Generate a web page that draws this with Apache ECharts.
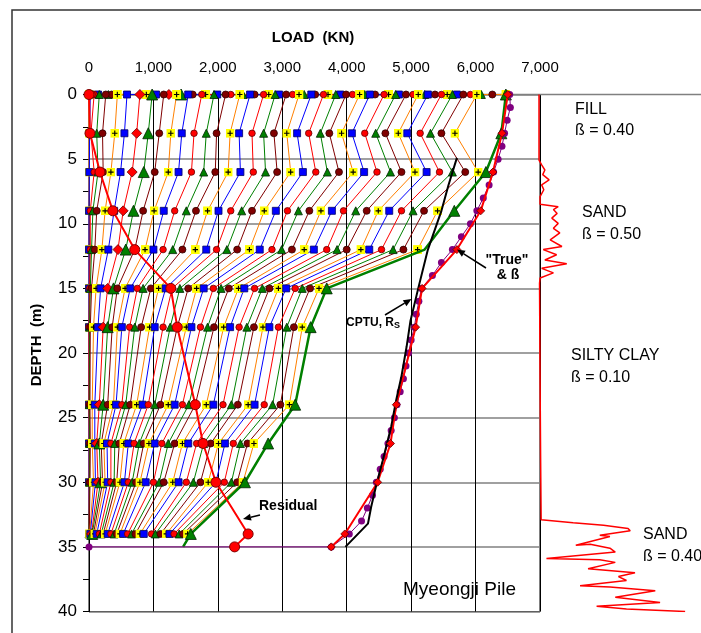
<!DOCTYPE html>
<html>
<head>
<meta charset="utf-8">
<script src="https://cdn.jsdelivr.net/npm/echarts/dist/echarts.min.js"></script>
<style>
  html, body { margin: 0; padding: 0; background: #fff; }
  #chart { width: 701px; height: 633px; }
</style>
</head>
<body>
<div id="chart"></div>
<script>
// gauge levels (m); the head has two points: applied load and top gauge
var gaugeDepths = [0, 0, 3, 6, 9, 12, 15, 18, 24, 27, 30, 34];

// load (kN) at each level for the 36 load steps
var loadHead = [0, 140, 80, 300, 350, 890, 1040, 1240, 1430, 1610, 1810, 1990, 2200, 2390, 2570, 2790, 2950, 3160, 3340, 3510, 3710, 3900, 4090, 4280, 4440, 4650, 4810, 5030, 5210, 5370, 5560, 5710, 5920, 6090, 6260, 6470];
var load0 = [0, 20, 50, 160, 260, 440, 590, 790, 980, 1160, 1360, 1540, 1750, 1940, 2120, 2340, 2500, 2710, 2890, 3060, 3260, 3450, 3640, 3830, 3990, 4200, 4360, 4580, 4760, 4920, 5110, 5260, 5470, 5640, 5810, 6020];
var load3 = [0, 10, 30, 120, 210, 400, 550, 740, 920, 1090, 1270, 1440, 1630, 1820, 1980, 2190, 2330, 2530, 2710, 2870, 3070, 3230, 3410, 3590, 3730, 3920, 4080, 4280, 4450, 4600, 4800, 4940, 5140, 5300, 5470, 5680];
var load6 = [0, 5, 80, 140, 220, 340, 490, 670, 850, 1020, 1230, 1390, 1590, 1780, 1960, 2160, 2350, 2550, 2740, 2920, 3130, 3320, 3520, 3700, 3880, 4100, 4270, 4470, 4680, 4850, 5060, 5240, 5440, 5640, 5840, 6040];
var load9 = [0, 0, 20, 60, 120, 250, 390, 530, 690, 840, 1010, 1160, 1330, 1510, 1660, 1840, 2010, 2200, 2370, 2530, 2720, 2900, 3080, 3250, 3420, 3600, 3770, 3950, 4140, 4310, 4490, 4660, 4850, 5030, 5200, 5410];
var load12 = [0, 0, 20, 40, 90, 200, 300, 450, 570, 710, 870, 1000, 1150, 1300, 1450, 1650, 1820, 1980, 2140, 2300, 2490, 2650, 2840, 2990, 3150, 3340, 3490, 3690, 3850, 4000, 4220, 4350, 4540, 4720, 4880, 5100];
var load15 = [0, 0, 10, 20, 40, 110, 180, 290, 380, 440, 560, 640, 750, 840, 960, 1080, 1190, 1290, 1410, 1540, 1670, 1780, 1930, 2050, 2170, 2320, 2410, 2570, 2690, 2800, 2940, 3060, 3200, 3310, 3430, 3570];
var load18 = [0, 0, 0, 10, 20, 70, 140, 220, 290, 360, 440, 510, 630, 710, 810, 940, 1020, 1150, 1260, 1370, 1510, 1590, 1730, 1840, 1940, 2090, 2190, 2330, 2450, 2560, 2700, 2800, 2940, 3070, 3180, 3310];
var load24 = [0, 0, 0, 5, 15, 50, 90, 160, 220, 290, 380, 420, 510, 570, 640, 740, 830, 920, 1020, 1110, 1230, 1330, 1450, 1550, 1650, 1820, 1930, 2080, 2210, 2310, 2470, 2570, 2720, 2850, 2970, 3110];
var load27 = [0, 0, 5, 10, 20, 50, 90, 120, 160, 190, 230, 280, 340, 400, 470, 540, 610, 700, 780, 850, 930, 1020, 1130, 1230, 1330, 1450, 1540, 1670, 1780, 1890, 2010, 2110, 2240, 2350, 2460, 2560];
var load30 = [0, 0, 5, 10, 15, 70, 100, 140, 180, 210, 250, 290, 340, 390, 430, 480, 550, 610, 670, 730, 790, 880, 1000, 1090, 1160, 1300, 1390, 1510, 1620, 1730, 1850, 1970, 2100, 2210, 2300, 2390];
var load34 = [0, 0, 0, 0, 5, 10, 20, 40, 50, 70, 90, 120, 160, 190, 220, 250, 290, 340, 390, 430, 480, 530, 600, 660, 720, 790, 850, 970, 1030, 1110, 1200, 1250, 1320, 1400, 1460, 1530];

// maximum load distribution
var maxDepths = [0, 3, 6, 9, 12, 15, 18, 24, 27, 30, 34, 35];
var maxLoad = [6470, 6400, 6160, 5670, 5210, 3690, 3440, 3200, 2780, 2420, 1580, 1460];

// residual load
var residDepths = [0, 3, 6, 9, 12, 15, 18, 24, 27, 30, 34, 35];
var residLoad = [0, 15, 170, 370, 710, 1270, 1370, 1650, 1770, 1970, 2470, 2260];

// "True" distribution
var trueDepths = [0, 3, 6, 9, 12, 15, 18, 24, 27, 30, 34, 35];
var trueLoad = [6500, 6410, 6270, 6080, 5710, 5170, 5070, 4770, 4680, 4480, 3970, 3760];

// effective stress (ß) calculation
var betaDepths = [0, 1, 2, 3, 4, 5, 6, 7, 8, 9, 10, 11, 12, 13, 14, 15, 16, 17, 18, 19, 20, 21, 22, 23, 24, 25, 26, 27, 28, 29, 30, 31, 32, 33, 34, 35, 35];
var betaLoad = [6530, 6540, 6490, 6450, 6410, 6350, 6280, 6210, 6120, 6020, 5920, 5780, 5640, 5470, 5330, 5160, 5120, 5080, 5050, 5000, 4960, 4920, 4880, 4830, 4780, 4740, 4690, 4640, 4580, 4520, 4460, 4400, 4320, 4230, 4040, 3760, 0];

// CPTU, Rs
var cptuDepths = [4.9, 7, 9, 12, 15, 17.5, 19.5, 21.8, 23.6, 25.7, 28.3, 30.4, 31.9, 33.2, 35];
var cptuLoad = [5710, 5580, 5470, 5260, 5110, 4990, 4930, 4850, 4770, 4690, 4560, 4450, 4380, 4330, 3980];

// cone resistance trace (right panel)
var coneDepths = [0, 5.07, 5.45, 5.84, 6.2, 6.6, 6.99, 7.37, 7.9, 8.5, 8.68, 8.9, 9.2, 9.56, 9.97, 10.35, 10.7, 11.25, 11.76, 12.0, 12.4, 12.8, 13.1, 13.45, 13.8, 14.2, 14.6, 22, 28, 32.9, 32.98, 33.14, 33.32, 33.58, 33.76, 34.1, 34.2, 34.87, 34.8, 35.1, 35.4, 35.9, 36.0, 36.2, 36.7, 37.0, 37.3, 37.6, 38.0, 38.1, 38.4, 38.9, 39.3, 39.6, 39.8, 40.0];
var coneQc = [0, 0, 0.5, 1.1, 0.7, 1.9, 0.5, 0.9, 0.2, 0.2, 3.6, 2.7, 3.4, 2.4, 3.6, 2.7, 3.9, 2.1, 4.3, 0.8, 3.3, 1.1, 5.2, 0.5, 2.7, 0.2, 0.1, 0.2, 0.3, 0.4, 0.5, 6.4, 12.1, 16.7, 17.1, 11.4, 13.3, 6.9, 9.6, 13.3, 14.3, 1.4, 11.4, 14.3, 9.2, 18.0, 14.9, 16.4, 7.7, 13.3, 21.8, 14.3, 22.7, 10.8, 16.4, 27.4];

var xTicks = [0, 1000, 2000, 3000, 4000, 5000, 6000, 7000];

var FONT = 'Liberation Sans, Arial, sans-serif';
var levelRows = [loadHead, load0, load3, load6, load9, load12, load15, load18, load24, load27, load30, load34];

var plusSvg = "<svg xmlns='http://www.w3.org/2000/svg' width='10' height='10'><rect width='10' height='10' fill='#FFFF00'/><path d='M5 2V8M2 5H8' stroke='#000' stroke-width='1.3'/></svg>";
var plusImg = 'image://data:image/svg+xml;charset=utf-8,' + encodeURIComponent(plusSvg);

var styles = [
  { line: '#FF8000', symbol: plusImg, size: 9 },
  { line: '#0000FF', symbol: 'rect', size: 7, fill: '#0000FF', border: '#000066' },
  { line: '#FF0000', symbol: 'circle', size: 6.5, fill: '#FF0000', border: '#660000' },
  { line: '#008000', symbol: 'triangle', size: 8, fill: '#008000', border: '#002200' },
  { line: '#800000', symbol: 'circle', size: 7, fill: '#800000', border: '#300000' }
];

var series = [];
for (var i = 0; i < load0.length; i++) {
  var st = styles[i % 5];
  var pts = [];
  for (var k = 0; k < gaugeDepths.length; k++) {
    pts.push([levelRows[k][i], gaugeDepths[k]]);
  }
  var sym = st.symbol, size = st.size;
  if (i === 7) { sym = 'diamond'; size = 10; }
  if (i === 8) { size = 11; }
  series.push({
    type: 'line', xAxisIndex: 0, yAxisIndex: 0,
    data: pts, symbol: sym, symbolSize: size, showSymbol: true,
    lineStyle: { color: st.line, width: 1 },
    itemStyle: { color: st.fill || st.line, borderColor: st.border || st.line, borderWidth: st.fill ? 0.8 : 0 },
    z: 2
  });
}

function pairs(xs, ys) {
  return xs.map(function (v, j) { return [v, ys[j]]; });
}

series.push({
  type: 'line', data: pairs(maxLoad, maxDepths).map(function (p) {
    return (p[1] === 12 || p[1] === 35) ? { value: p, symbol: 'none' } : p;
  }),
  symbol: 'triangle', symbolSize: 11,
  lineStyle: { color: '#008000', width: 2.5 },
  itemStyle: { color: '#008000', borderColor: '#002200', borderWidth: 0.8 }, z: 3
});
series.push({
  type: 'line', data: pairs(residLoad, residDepths),
  symbol: 'circle', symbolSize: 10,
  lineStyle: { color: '#FF0000', width: 2 },
  itemStyle: { color: '#FF0000', borderColor: '#800000', borderWidth: 1 }, z: 4
});
series.push({
  type: 'line', data: pairs(betaLoad, betaDepths),
  symbol: 'circle', symbolSize: 7,
  lineStyle: { color: '#800080', width: 1 },
  itemStyle: { color: '#800080' }, z: 4
});
series.push({
  type: 'line', data: pairs(trueLoad, trueDepths),
  symbol: 'diamond', symbolSize: 8,
  lineStyle: { color: '#FF0000', width: 2 },
  itemStyle: { color: '#FF0000', borderColor: '#660000', borderWidth: 0.8 }, z: 5
});
series.push({
  type: 'line', data: pairs(cptuLoad, cptuDepths),
  symbol: 'none',
  lineStyle: { color: '#000', width: 2 }, z: 5
});
series.push({
  type: 'line', xAxisIndex: 1, yAxisIndex: 1,
  data: pairs(coneQc, coneDepths), symbol: 'none',
  lineStyle: { color: '#FF0000', width: 1.5 }, z: 3
});

function txt(x, y, s, font, align, rot) {
  return { type: 'text', x: x, y: y, z: 20, rotation: rot || 0,
    style: { text: s, font: font, fill: '#000', align: align || 'left', verticalAlign: 'middle' } };
}
function arrow(x1, y1, x2, y2) {
  var dx = x2 - x1, dy = y2 - y1, len = Math.sqrt(dx * dx + dy * dy);
  var ux = dx / len, uy = dy / len, hl = 8, hw = 3.5;
  var bx = x2 - ux * hl, by = y2 - uy * hl;
  return [
    { type: 'line', z: 20, shape: { x1: x1, y1: y1, x2: bx, y2: by }, style: { stroke: '#000', lineWidth: 1.5 } },
    { type: 'polygon', z: 20, shape: { points: [[x2, y2], [bx - uy * hw, by + ux * hw], [bx + uy * hw, by - ux * hw]] }, style: { fill: '#000' } }
  ];
}

var graphics = [
  { type: 'rect', z: 0, shape: { x: 12, y: 10, width: 720, height: 640 }, style: { fill: 'none', stroke: '#333', lineWidth: 1.5 } },
  { type: 'line', z: 1, shape: { x1: 89, y1: 94.5, x2: 701, y2: 94.5 }, style: { stroke: '#808080', lineWidth: 1.5 } },
  txt(313, 38, 'LOAD  (KN)', 'bold 15px ' + FONT, 'center'),
  txt(37, 345, 'DEPTH  (m)', 'bold 15px ' + FONT, 'center', Math.PI / 2),
  txt(575, 110, 'FILL', '16px ' + FONT),
  txt(575, 131, '\u00DF = 0.40', '16px ' + FONT),
  txt(582, 213, 'SAND', '16px ' + FONT),
  txt(582, 235, '\u00DF = 0.50', '16px ' + FONT),
  txt(571, 356, 'SILTY CLAY', '16px ' + FONT),
  txt(571, 378, '\u00DF = 0.10', '16px ' + FONT),
  txt(643, 535, 'SAND', '16px ' + FONT),
  txt(643, 557, '\u00DF = 0.40', '16px ' + FONT),
  txt(403, 590, 'Myeongji Pile', '19px ' + FONT),
  txt(507, 260, '"True"', 'bold 14px ' + FONT, 'center'),
  txt(508, 275, '& \u00DF', 'bold 14px ' + FONT, 'center'),
  txt(259, 506, 'Residual', 'bold 14px ' + FONT),
  { type: 'text', x: 346, y: 323, z: 20, style: {
      text: '{a|CPTU, R}{s|S}', verticalAlign: 'middle',
      rich: { a: { font: 'bold 12px ' + FONT, fill: '#000' }, s: { font: 'bold 9px ' + FONT, fill: '#000', padding: [6, 0, 0, 0] } } } }
].concat(arrow(260, 515, 243, 519), arrow(486, 268, 457, 249.5), arrow(385, 315, 411.5, 299));

var chart = echarts.init(document.getElementById('chart'), null, { renderer: 'canvas' });
chart.setOption({
  animation: false,
  backgroundColor: '#fff',
  grid: [
    { left: 89, top: 94.5, width: 451, height: 517, show: true, borderColor: '#000', borderWidth: 1 },
    { left: 539, top: 94.5, width: 160, height: 517, show: false }
  ],
  xAxis: [
    { gridIndex: 0, type: 'value', position: 'top', min: xTicks[0], max: xTicks[xTicks.length - 1], interval: 1000,
      axisLine: { show: false }, axisTick: { show: false },
      axisLabel: { margin: 19, fontSize: 15, color: '#000', fontFamily: FONT,
        formatter: function (v) { return String(v).replace(/\B(?=(\d{3})+(?!\d))/g, ','); } },
      splitLine: { show: true, lineStyle: { color: '#000', width: 1 } } },
    { gridIndex: 1, type: 'value', min: 0, max: 30, show: false }
  ],
  yAxis: [
    { gridIndex: 0, type: 'value', inverse: true, min: 0, max: 40, interval: 5,
      axisLine: { show: true, lineStyle: { color: '#000', width: 1 } },
      axisTick: { show: true, length: 6, lineStyle: { color: '#000' } },
      minorTick: { show: true, splitNumber: 2, length: 6, lineStyle: { color: '#000' } },
      axisLabel: { margin: 12, fontSize: 17, color: '#000', fontFamily: FONT },
      splitLine: { show: true, lineStyle: { color: '#808080', width: 1.5 } } },
    { gridIndex: 1, type: 'value', inverse: true, min: 0, max: 40, show: false }
  ],
  graphic: graphics,
  series: series
});
</script>
</body>
</html>
